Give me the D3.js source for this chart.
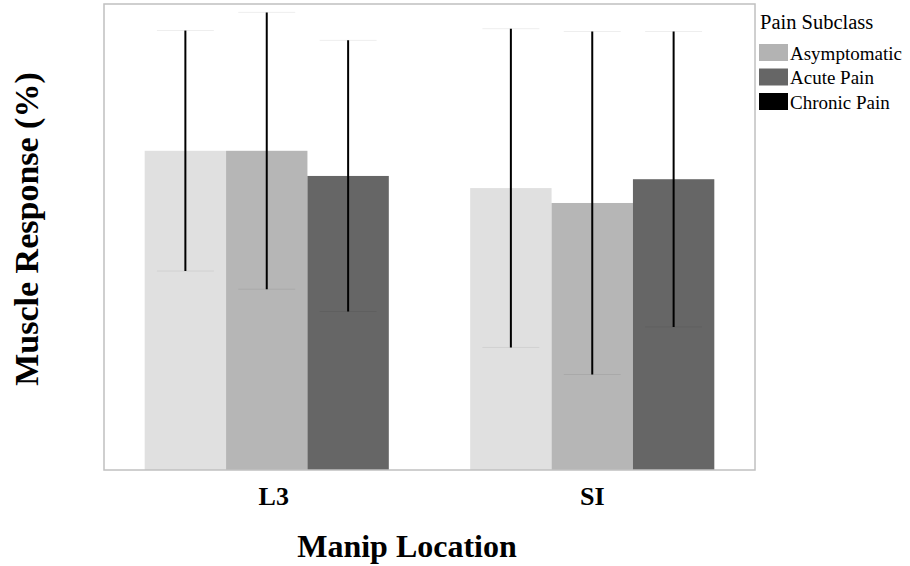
<!DOCTYPE html>
<html>
<head>
<meta charset="utf-8">
<script src="https://cdn.jsdelivr.net/npm/d3@7"></script>
<style>
  body { margin: 0; background: #fff; }
</style>
</head>
<body>
<div id="chart-area"></div>
<script>
const WIDTH = 910
const HEIGHT = 566
const PLOT = { LEFT: 104, RIGHT: 755, TOP: 4, BOTTOM: 470 }
const FONT = "'Liberation Serif', Times, 'Times New Roman', serif"

// data (y units are arbitrary, no ticks shown)
const locations = ["L3", "SI"]
const subclasses = ["Asymptomatic", "Acute Pain", "Chronic Pain"]
const meanL3 = [68.5, 68.5, 63.1]
const meanSI = [60.5, 57.3, 62.4]
const sdL3 = [25.8, 29.7, 29.1]
const sdSI = [34.2, 36.8, 31.7]

// bars and legend use different greys in the original
const barColors = ["#e0e0e0", "#b6b6b6", "#666666"]
const legendColors = ["#b3b3b3", "#666666", "#000000"]
const labelShift = [7, 0] // labels are not exactly centred in the original

const data = []
locations.forEach((loc, i) => {
  const means = i === 0 ? meanL3 : meanSI
  const sds = i === 0 ? sdL3 : sdSI
  subclasses.forEach((s, j) => {
    data.push({ loc: loc, sub: s, mean: means[j], sd: sds[j] })
  })
})

const svg = d3.select("#chart-area").append("svg")
  .attr("width", WIDTH)
  .attr("height", HEIGHT)
  .attr("font-family", FONT)

const x0 = d3.scaleBand()
  .domain(locations)
  .range([PLOT.LEFT, PLOT.RIGHT])
  .paddingInner(0.25)
  .paddingOuter(0.125)

const x1 = d3.scaleBand()
  .domain(subclasses)
  .range([0, x0.bandwidth()])

const y = d3.scaleLinear()
  .domain([0, 100])
  .range([PLOT.BOTTOM, PLOT.TOP])

const cScale = d3.scaleOrdinal().domain(subclasses).range(barColors)

// bars
svg.selectAll("rect.bar")
  .data(data)
  .join("rect")
  .attr("class", "bar")
  .attr("x", d => x0(d.loc) + x1(d.sub))
  .attr("y", d => y(d.mean))
  .attr("width", x1.bandwidth())
  .attr("height", d => y(0) - y(d.mean))
  .attr("fill", d => cScale(d.sub))

// error bars
const cx = d => x0(d.loc) + x1(d.sub) + x1.bandwidth() / 2
const capW = x1.bandwidth() * 0.7

svg.selectAll("line.err")
  .data(data)
  .join("line")
  .attr("x1", cx).attr("x2", cx)
  .attr("y1", d => y(d.mean + d.sd))
  .attr("y2", d => y(d.mean - d.sd))
  .attr("stroke", "#000")
  .attr("stroke-width", 2)

svg.selectAll("line.capTop")
  .data(data)
  .join("line")
  .attr("x1", d => cx(d) - capW / 2).attr("x2", d => cx(d) + capW / 2)
  .attr("y1", d => y(d.mean + d.sd)).attr("y2", d => y(d.mean + d.sd))
  .attr("stroke", "rgba(0,0,0,0.07)")
  .attr("stroke-width", 1)

svg.selectAll("line.capBot")
  .data(data)
  .join("line")
  .attr("x1", d => cx(d) - capW / 2).attr("x2", d => cx(d) + capW / 2)
  .attr("y1", d => y(d.mean - d.sd)).attr("y2", d => y(d.mean - d.sd))
  .attr("stroke", "rgba(0,0,0,0.07)")
  .attr("stroke-width", 1)

// frame
svg.append("rect")
  .attr("x", PLOT.LEFT).attr("y", PLOT.TOP)
  .attr("width", PLOT.RIGHT - PLOT.LEFT)
  .attr("height", PLOT.BOTTOM - PLOT.TOP)
  .attr("fill", "none")
  .attr("stroke", "#c0c0c0")
  .attr("stroke-width", 1.5)

// x tick labels
svg.selectAll("text.tick")
  .data(locations)
  .join("text")
  .attr("class", "tick")
  .attr("x", (d, i) => x0(d) + x0.bandwidth() / 2 + labelShift[i])
  .attr("y", 505)
  .attr("text-anchor", "middle")
  .attr("font-weight", "bold")
  .attr("font-size", 26)
  .text(d => d)

// axis titles
svg.append("text")
  .attr("x", 407).attr("y", 557)
  .attr("text-anchor", "middle")
  .attr("font-weight", "bold")
  .attr("font-size", 32)
  .text("Manip Location")

svg.append("text")
  .attr("transform", "translate(38,229) rotate(-90)")
  .attr("text-anchor", "middle")
  .attr("font-weight", "bold")
  .attr("font-size", 34)
  .text("Muscle Response (%)")

// legend
const legend = svg.append("g").attr("transform", "translate(759,0)")
legend.append("text")
  .attr("x", 1).attr("y", 29)
  .attr("font-size", 20.5)
  .text("Pain Subclass")

const rows = legend.selectAll("g.row")
  .data(subclasses)
  .join("g")
  .attr("class", "row")
  .attr("transform", (d, i) => `translate(0,${44 + i * 24.5})`)
rows.append("rect")
  .attr("width", 29).attr("height", 17)
  .attr("fill", (d, i) => legendColors[i])
rows.append("text")
  .attr("x", 31).attr("y", 15.5)
  .attr("font-size", 19)
  .text(d => d)
</script>
</body>
</html>
